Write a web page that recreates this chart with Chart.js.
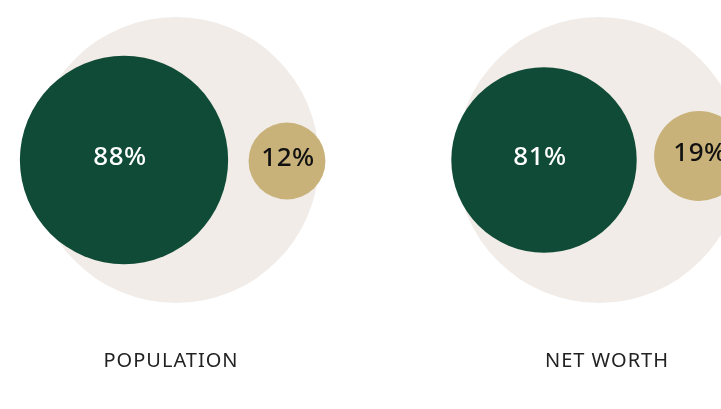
<!DOCTYPE html>
<html>
<head>
<meta charset="utf-8">
<script src="https://cdn.jsdelivr.net/npm/chart.js@4.4.1/dist/chart.umd.min.js"></script>
<style>
    html, body { margin: 0; padding: 0; background: #fff; }
    #wrap { width: 721px; height: 409px; }
</style>
</head>
<body>
<div id="wrap"><canvas id="shareChart"></canvas></div>
<script>
/* data */
const groups = ['POPULATION', 'NET WORTH'];
const majorityShare = [88, 81];
const minorityShare = [12, 19];

/* layout (pixels) */
const panelX = [176, 599];
const panelY = 160;
const totalRadius = 143;
const sizeFactor = [11.1, 10.3];
const majorityOffset = [-52, -55];
const minorityOffset = [111, 100];
const minorityDy = [1, -4];

const radius = (pct, i) => Math.sqrt(pct) * sizeFactor[i];

const totalPoints = groups.map((g, i) => ({ x: panelX[i], y: panelY, r: totalRadius }));
const majorityPoints = groups.map((g, i) => ({ x: panelX[i] + majorityOffset[i], y: panelY, r: radius(majorityShare[i], i) }));
const minorityPoints = groups.map((g, i) => ({ x: panelX[i] + minorityOffset[i], y: panelY + minorityDy[i], r: radius(minorityShare[i], i) }));

/* texts inside bubbles and group names under them */
const labelPlugin = {
    id: 'labels',
    afterDatasetsDraw(chart) {
        const ctx = chart.ctx;
        ctx.save();
        ctx.textAlign = 'center';
        ctx.textBaseline = 'middle';
        ctx.font = '500 26px "Noto Sans", sans-serif';
        if ('letterSpacing' in ctx) ctx.letterSpacing = '0.5px';

        chart.getDatasetMeta(1).data.forEach((el, i) => {
            ctx.fillStyle = '#ffffff';
            ctx.fillText(majorityShare[i] + '%', el.x - 4, el.y - 2);
        });
        chart.getDatasetMeta(2).data.forEach((el, i) => {
            ctx.fillStyle = '#111111';
            ctx.fillText(minorityShare[i] + '%', el.x + 1, el.y - 2);
        });

        ctx.font = '400 20px "Noto Sans", sans-serif';
        ctx.fillStyle = '#222222';
        if ('letterSpacing' in ctx) ctx.letterSpacing = '1px';
        chart.getDatasetMeta(0).data.forEach((el, i) => {
            ctx.fillText(groups[i], el.x + (i === 0 ? -5 : 8), 361);
        });
        ctx.restore();
    }
};

new Chart(document.getElementById('shareChart').getContext('2d'), {
    type: 'bubble',
    data: {
        datasets: [
            { label: 'total', data: totalPoints, backgroundColor: '#f1ece8', borderWidth: 0, order: 3 },
            { label: 'majority', data: majorityPoints, backgroundColor: '#0f4b36', borderWidth: 0, order: 2 },
            { label: 'minority', data: minorityPoints, backgroundColor: '#c9b27a', borderWidth: 0, order: 1 }
        ]
    },
    options: {
        responsive: true,
        maintainAspectRatio: false,
        animation: false,
        events: [],
        clip: false,
        layout: { padding: 0, autoPadding: false },
        scales: {
            x: { type: 'linear', min: 0, max: 721, display: false },
            y: { type: 'linear', min: 0, max: 409, reverse: true, display: false }
        },
        plugins: {
            legend: { display: false },
            tooltip: { enabled: false }
        }
    },
    plugins: [labelPlugin]
});
</script>
</body>
</html>
